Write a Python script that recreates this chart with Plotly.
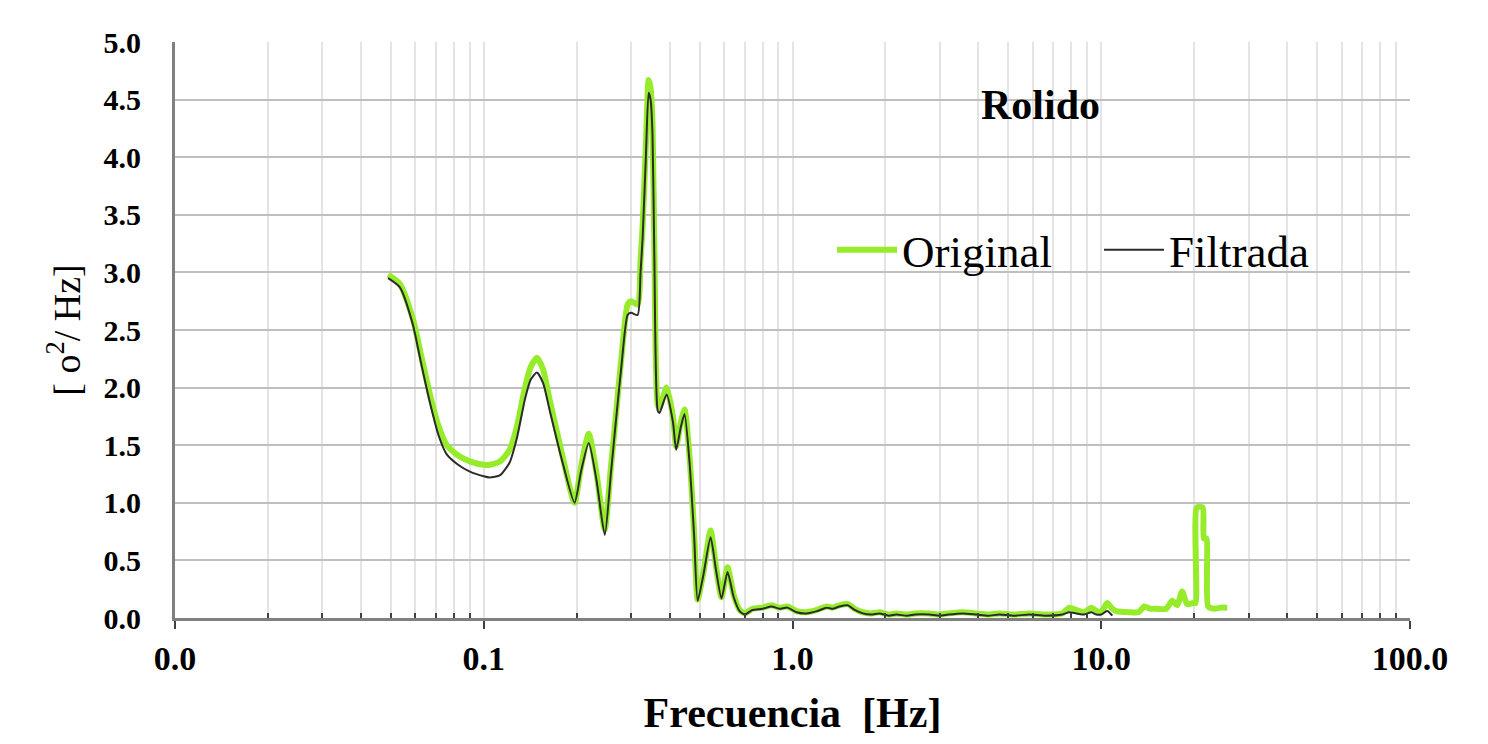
import plotly.graph_objects as go

# ---- data ----
freq_orig = [0.049, 0.0535, 0.0589, 0.0628, 0.0668, 0.0715, 0.0759, 0.0826, 0.0902, 0.1, 0.1045,
             0.113, 0.1213, 0.128, 0.136, 0.142, 0.1486, 0.1556, 0.1636, 0.178, 0.1968, 0.2065,
             0.2188, 0.2317, 0.2466, 0.258, 0.2655, 0.279, 0.2924, 0.30, 0.315, 0.322, 0.327,
             0.335, 0.342, 0.347, 0.352, 0.357, 0.366, 0.371, 0.391, 0.41, 0.42, 0.435, 0.447,
             0.464, 0.48, 0.493, 0.515, 0.543, 0.565, 0.589, 0.616, 0.645, 0.674, 0.70,
             0.742, 0.80, 0.855, 0.907, 0.963, 1.03, 1.11, 1.20, 1.29, 1.35, 1.42, 1.51, 1.59,
             1.69, 1.8, 1.91, 2.05, 2.17, 2.35, 2.5, 2.77, 3.0, 3.2, 3.55, 3.94, 4.3, 4.68, 5.2,
             5.85, 6.6, 7.48, 7.88, 8.30, 8.8, 9.29, 9.64, 10.0, 10.45, 10.86, 11.19, 12.33,
             13.2, 13.78, 14.4, 15.07, 16.23, 16.98, 17.62, 18.28, 18.97, 19.85, 20.2, 20.4,
             21.3, 21.5, 21.9, 22.2, 23.2, 24.4, 25.6]
psd_orig = [2.98, 2.9, 2.6, 2.27, 1.95, 1.66, 1.5, 1.41, 1.36, 1.33, 1.33,
            1.36, 1.46, 1.66, 2.0, 2.18, 2.26, 2.16, 1.89, 1.46, 1.0, 1.31,
            1.6, 1.26, 0.77, 1.3, 1.65, 2.25, 2.72, 2.75, 2.72, 3.1, 3.4,
            4.1, 4.67, 4.6, 4.3, 3.2, 1.85, 1.83, 2.0, 1.75, 1.49, 1.7, 1.81,
            1.4, 0.75, 0.16, 0.4, 0.76, 0.45, 0.18, 0.44, 0.2, 0.07, 0.04,
            0.08, 0.09, 0.11, 0.09, 0.10, 0.06, 0.05, 0.07, 0.10, 0.09, 0.11, 0.12, 0.08,
            0.05, 0.04, 0.05, 0.03, 0.04, 0.03, 0.04, 0.04, 0.03, 0.04, 0.05, 0.04, 0.03, 0.04, 0.03,
            0.04, 0.03, 0.04, 0.09, 0.07, 0.05, 0.09, 0.06, 0.05, 0.13, 0.08, 0.06, 0.05,
            0.05, 0.10, 0.08, 0.08, 0.08, 0.15, 0.11, 0.23, 0.12, 0.13, 0.13, 0.96,
            0.96, 0.69, 0.69, 0.10, 0.08, 0.09, 0.09]

freq_filt = [0.049, 0.0535, 0.0589, 0.0628, 0.0668, 0.0715, 0.0759, 0.0826, 0.0902, 0.1, 0.1045,
             0.113, 0.1213, 0.128, 0.136, 0.142, 0.1486, 0.1556, 0.1636, 0.178, 0.1968, 0.2065,
             0.2188, 0.2317, 0.2466, 0.258, 0.2655, 0.279, 0.2924, 0.30, 0.315, 0.322, 0.327,
             0.335, 0.342, 0.347, 0.352, 0.357, 0.366, 0.371, 0.391, 0.41, 0.42, 0.435, 0.447,
             0.464, 0.48, 0.493, 0.515, 0.543, 0.565, 0.589, 0.616, 0.645, 0.674, 0.70,
             0.742, 0.80, 0.855, 0.907, 0.963, 1.03, 1.11, 1.20, 1.29, 1.35, 1.42, 1.51, 1.59,
             1.69, 1.8, 1.91, 2.05, 2.17, 2.35, 2.5, 2.77, 3.0, 3.2, 3.55, 3.94, 4.3, 4.68, 5.2,
             5.85, 6.6, 7.48, 7.88, 8.30, 8.8, 9.29, 9.64, 10.0, 10.45, 10.86]
psd_filt = [2.95, 2.87, 2.55, 2.2, 1.88, 1.58, 1.42, 1.33, 1.27, 1.23, 1.22,
            1.24, 1.35, 1.56, 1.9, 2.07, 2.13, 2.04, 1.8, 1.4, 1.0, 1.27,
            1.52, 1.2, 0.72, 1.25, 1.6, 2.18, 2.63, 2.65, 2.63, 3.0, 3.3,
            4.0, 4.56, 4.5, 4.2, 3.1, 1.8, 1.78, 1.94, 1.7, 1.46, 1.66, 1.77,
            1.35, 0.72, 0.15, 0.38, 0.7, 0.42, 0.17, 0.4, 0.18, 0.06, 0.03,
            0.07, 0.08, 0.10, 0.08, 0.09, 0.05, 0.04, 0.06, 0.09, 0.08, 0.10, 0.11, 0.07,
            0.04, 0.03, 0.04, 0.02, 0.03, 0.02, 0.03, 0.03, 0.02, 0.03, 0.04, 0.03, 0.02, 0.03, 0.02,
            0.03, 0.02, 0.03, 0.05, 0.04, 0.03, 0.05, 0.03, 0.03, 0.06, 0.02]

x_tickvals = [0.01, 0.1, 1, 10, 100]
x_ticktext = ["0.0", "0.1", "1.0", "10.0", "100.0"]
x_minor = [k * 10.0 ** e for e in range(-2, 2) for k in range(2, 10)]

FONT = "Liberation Serif"

fig = go.Figure()
fig.add_trace(go.Scatter(x=freq_orig, y=psd_orig, mode="lines", name="Original",
                         line=dict(color="#96ec2a", width=6, shape="spline", smoothing=0.6)))
fig.add_trace(go.Scatter(x=freq_filt, y=psd_filt, mode="lines", name="Filtrada",
                         line=dict(color="#2b2b2b", width=2, shape="spline", smoothing=0.6)))

# white boxes behind the title label and the legend (they hide the grid, not the data)
fig.add_shape(type="rect", xref="paper", yref="paper", layer="between",
              x0=0.6235, x1=0.7733, y0=0.8056, y1=0.9757,
              fillcolor="white", line=dict(width=0))
fig.add_shape(type="rect", xref="paper", yref="paper", layer="between",
              x0=0.5158, x1=0.9352, y0=0.5677, y1=0.7188,
              fillcolor="white", line=dict(width=0))

fig.update_layout(
    width=1472, height=728,
    margin=dict(l=167, r=70, t=34, b=118),
    paper_bgcolor="white", plot_bgcolor="white",
    font=dict(family=FONT, color="black"),
    showlegend=True,
    legend=dict(orientation="h", x=0.532, y=0.639, xanchor="left", yanchor="middle",
                bgcolor="rgba(255,255,255,0)", font=dict(family=FONT, size=45, color="black"),
                borderwidth=0, itemwidth=60, entrywidth=192, entrywidthmode="pixels"),
    annotations=[dict(text="<b>Rolido</b>", x=0.701, y=0.891, xref="paper", yref="paper",
                      xanchor="center", yanchor="middle",
                      showarrow=False, font=dict(family=FONT, size=42, color="black"))],
)

fig.update_xaxes(
    type="log", range=[-2, 2], automargin=False,
    tickmode="array", tickvals=x_tickvals, ticktext=x_ticktext,
    tickfont=dict(family=FONT, size=34, color="black", weight="bold"),
    ticks="outside", ticklen=8, tickwidth=2, tickcolor="#404040", ticklabelstandoff=0,
    showgrid=True, gridcolor="#e4e4e4", gridwidth=2,
    minor=dict(tickmode="array", tickvals=x_minor, showgrid=True, gridcolor="#e4e4e4",
               gridwidth=2, ticks="inside", ticklen=5, tickwidth=2, tickcolor="#404040"),
    showline=True, linecolor="#808080", linewidth=3,
    title=dict(text="<b>Frecuencia  [Hz]</b>", font=dict(family=FONT, size=42, color="black"),
               standoff=24),
)
fig.update_yaxes(
    range=[0, 5], automargin=False, tickmode="linear", tick0=0, dtick=0.5, tickformat=".1f",
    tickfont=dict(family=FONT, size=30, color="black", weight="bold"),
    ticks="", ticklabelstandoff=25,
    showgrid=True, gridcolor="#bfbfbf", gridwidth=2, zeroline=False,
    showline=True, linecolor="#808080", linewidth=3,
    title=dict(text="[ o<sup>2</sup>/ Hz]", font=dict(family=FONT, size=38, color="black"),
               standoff=12),
)

fig.write_html("out.html")
